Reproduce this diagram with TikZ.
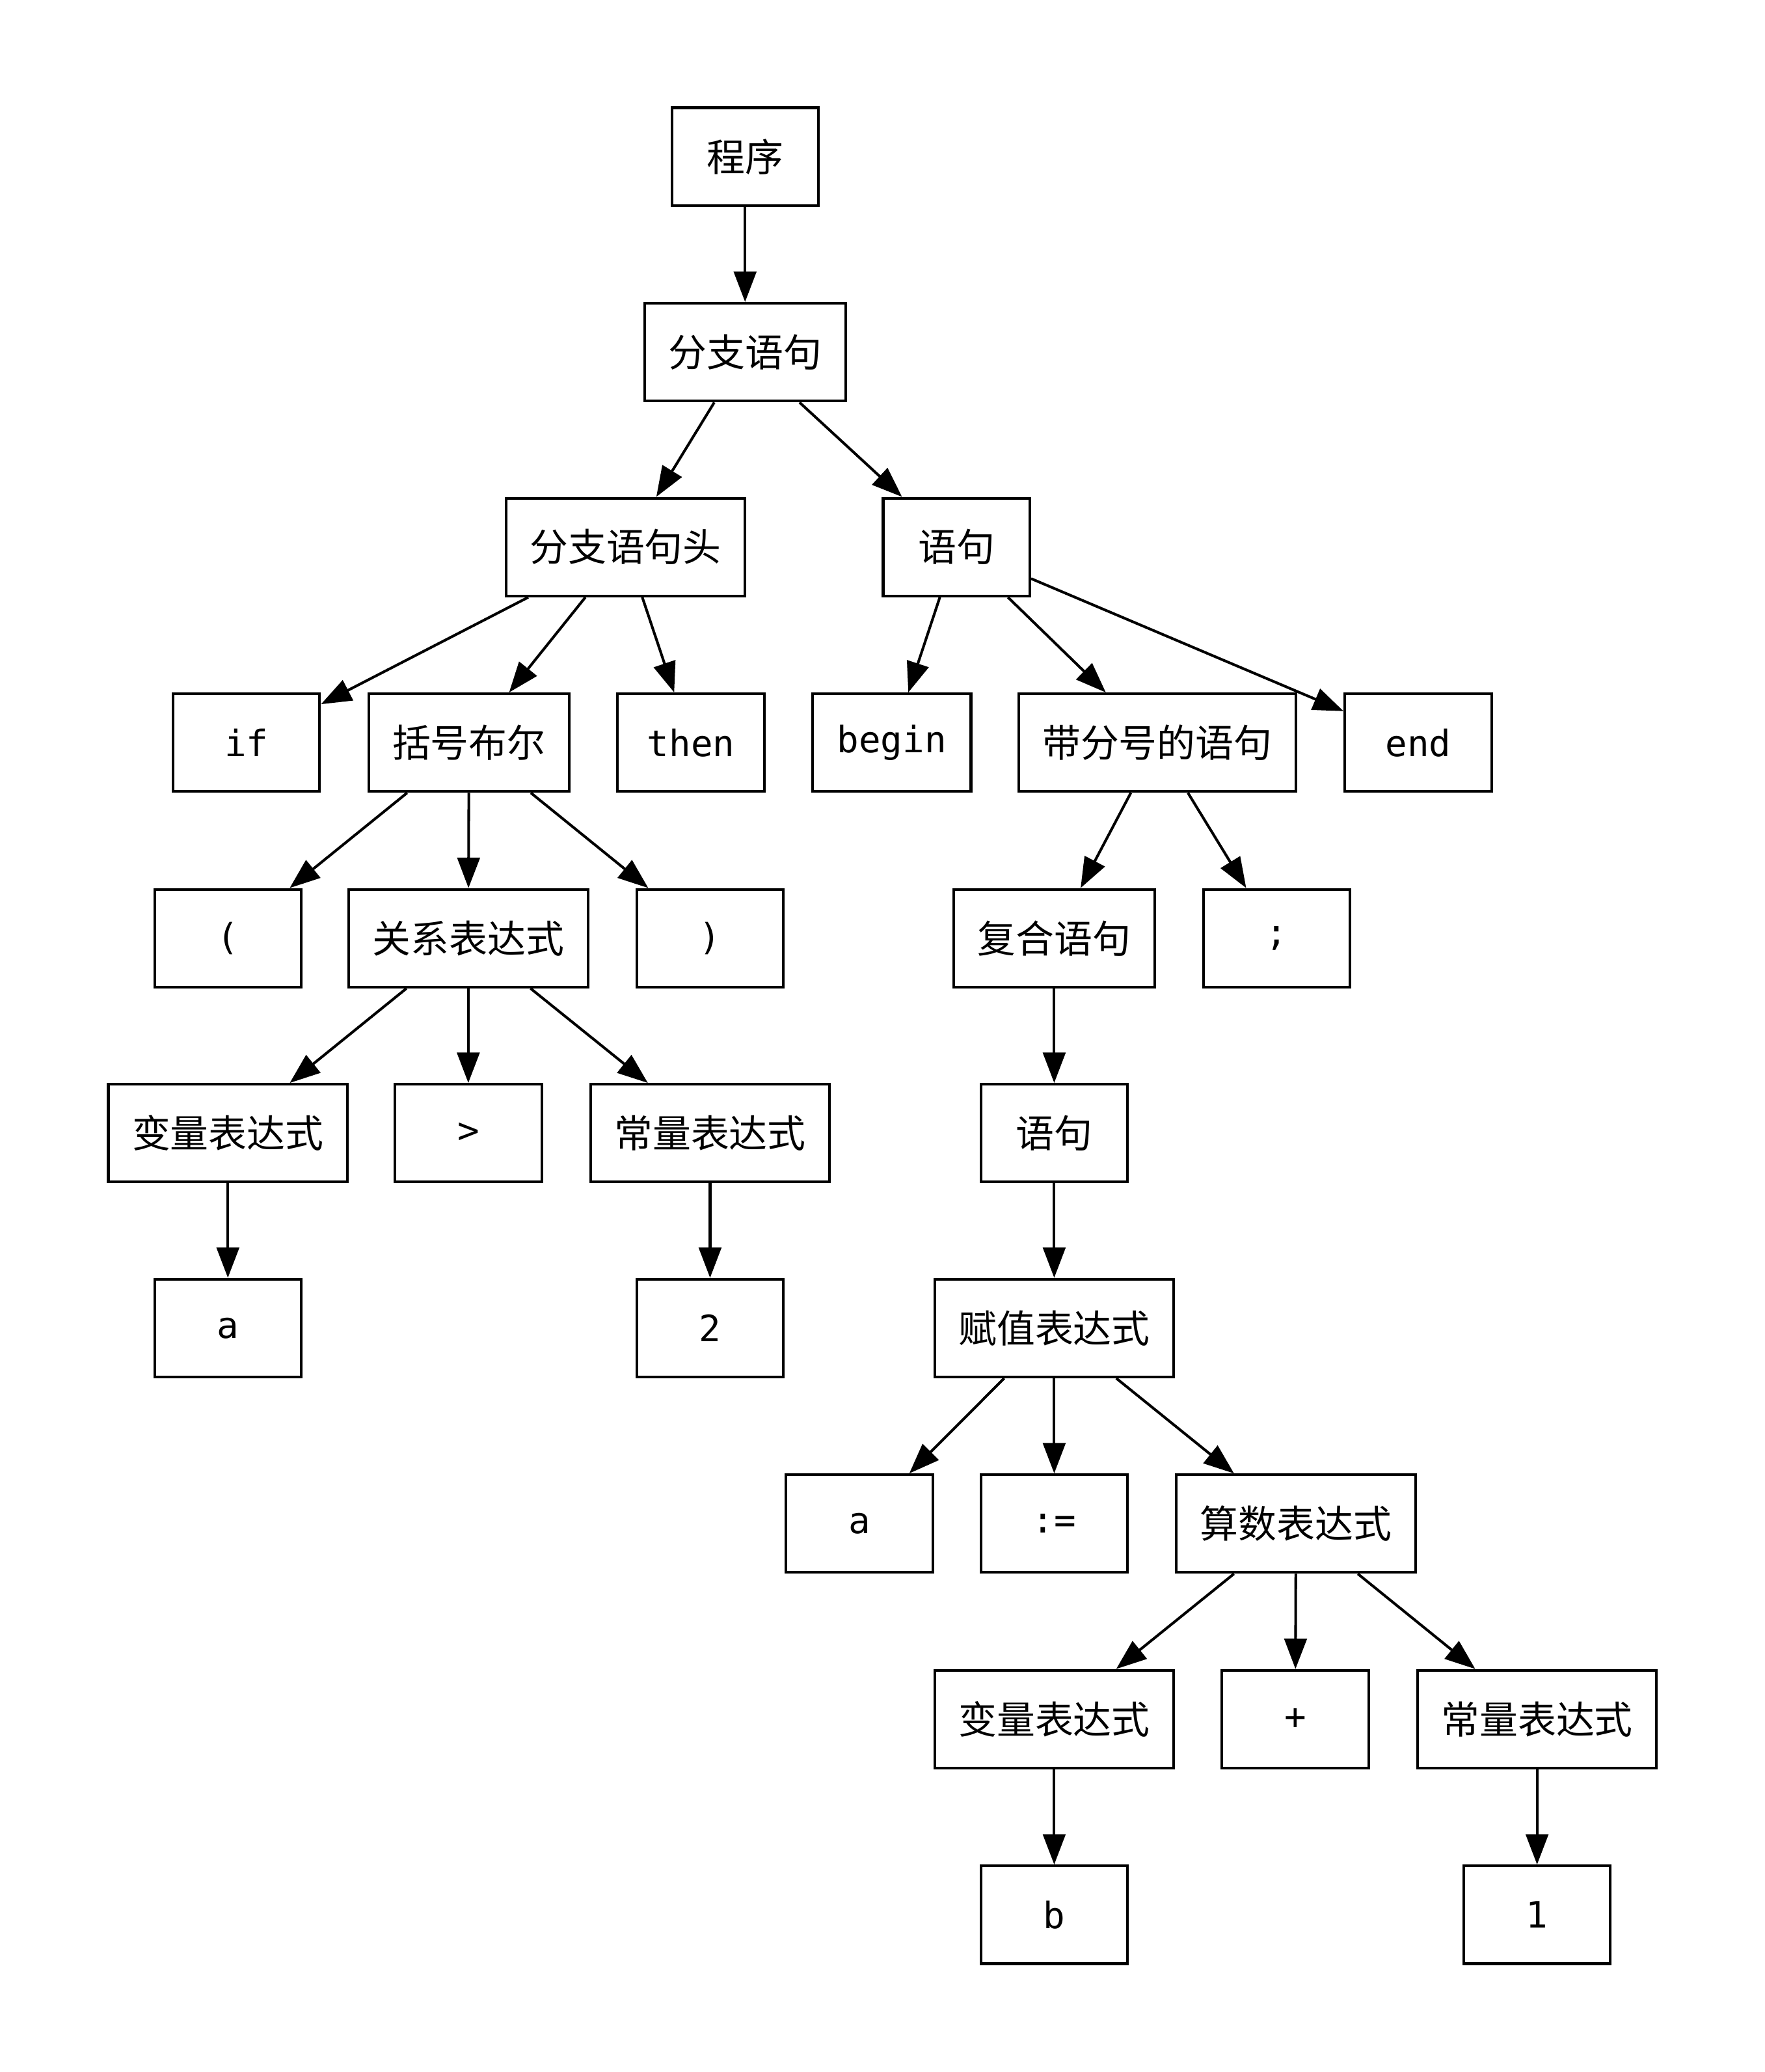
\documentclass[tikz,border=0pt]{standalone}
\usepackage{fontspec}
\setmainfont{DejaVu Sans Mono}
\newfontfamily\cjk{Noto Sans CJK SC}
\usetikzlibrary{arrows.meta}
\tikzset{
  tbox/.style={draw, line width=2pt, minimum height=74pt, inner sep=0pt, font=\fontsize{27.5}{30}\selectfont},
  cbox/.style={tbox, font=\fontsize{29}{30}\selectfont\cjk},
  w110/.style={minimum width=111pt},
  w120/.style={minimum width=120pt},
  w152/.style={minimum width=152pt},
  w181/.style={minimum width=181pt},
  w210/.style={minimum width=210pt},
  edge/.style={line width=2pt, -{Triangle[length=23pt,width=17pt]}}
}
\begin{document}
\begin{tikzpicture}[x=1pt,y=-1pt]
\useasboundingbox (0,0) rectangle (1336,1568);
% row 1
\node[cbox,w110] (prog) at (564,118.5) {程序};
\node[cbox,w152] (fzyj) at (564,266.5) {分支语句};
\node[cbox,w181] (fzyjt) at (473.5,414) {分支语句头};
\node[cbox,w110] (yj1) at (724,414) {语句};
% row 4
\node[tbox,w110] (if) at (186.5,562) {if};
\node[cbox,w152] (khbe) at (355,562) {括号布尔};
\node[tbox,w110] (then) at (523,562) {then};
\node[tbox,w120] (begin) at (675,562) {begin};
\node[cbox,w210] (dfh) at (876,562) {带分号的语句};
\node[tbox,w110] (end) at (1073.5,562) {end};
% row 5
\node[tbox,w110] (lp) at (172.5,710) {(};
\node[cbox,w181] (gx) at (354.5,710) {关系表达式};
\node[tbox,w110] (rp) at (537.5,710) {)};
\node[cbox,w152] (fh) at (798,710) {复合语句};
\node[tbox,w110] (semi) at (966.5,710) {;};
% row 6
\node[cbox,w181] (bl1) at (172.5,857.5) {变量表达式};
\node[tbox,w110] (gt) at (354.5,857.5) {>};
\node[cbox,w181] (cl1) at (537.5,857.5) {常量表达式};
\node[cbox,w110] (yj2) at (798,857.5) {语句};
% row 7
\node[tbox,w110] (a1) at (172.5,1005) {a};
\node[tbox,w110] (two) at (537.5,1005) {2};
\node[cbox,w181] (fz) at (798,1005) {赋值表达式};
% row 8
\node[tbox,w110] (a2) at (650.5,1153) {a};
\node[tbox,w110] (assign) at (798,1153) {:=};
\node[cbox,w181] (ss) at (981,1153) {算数表达式};
% row 9
\node[cbox,w181] (bl2) at (798,1301) {变量表达式};
\node[tbox,w110] (plus) at (980.5,1301) {+};
\node[cbox,w181] (cl2) at (1163.5,1301) {常量表达式};
% row 10
\node[tbox,w110] (b) at (798,1449) {b};
\node[tbox,w110] (one) at (1163.5,1449) {1};
% edges
\draw[edge] (prog) -- (fzyj);
\draw[edge] (fzyj) -- (fzyjt);
\draw[edge] (fzyj) -- (yj1);
\draw[edge] (fzyjt) -- (if);
\draw[edge] (fzyjt) -- (khbe);
\draw[edge] (fzyjt) -- (then);
\draw[edge] (yj1) -- (begin);
\draw[edge] (yj1) -- (dfh);
\draw[edge] (yj1) -- (end);
\draw[edge] (khbe) -- (lp);
\draw[edge] (khbe) -- (gx);
\draw[edge] (khbe) -- (rp);
\draw[edge] (dfh) -- (fh);
\draw[edge] (dfh) -- (semi);
\draw[edge] (gx) -- (bl1);
\draw[edge] (gx) -- (gt);
\draw[edge] (gx) -- (cl1);
\draw[edge] (fh) -- (yj2);
\draw[edge] (bl1) -- (a1);
\draw[edge] (cl1) -- (two);
\draw[edge] (yj2) -- (fz);
\draw[edge] (fz) -- (a2);
\draw[edge] (fz) -- (assign);
\draw[edge] (fz) -- (ss);
\draw[edge] (ss) -- (bl2);
\draw[edge] (ss) -- (plus);
\draw[edge] (ss) -- (cl2);
\draw[edge] (bl2) -- (b);
\draw[edge] (cl2) -- (one);
\end{tikzpicture}
\end{document}
